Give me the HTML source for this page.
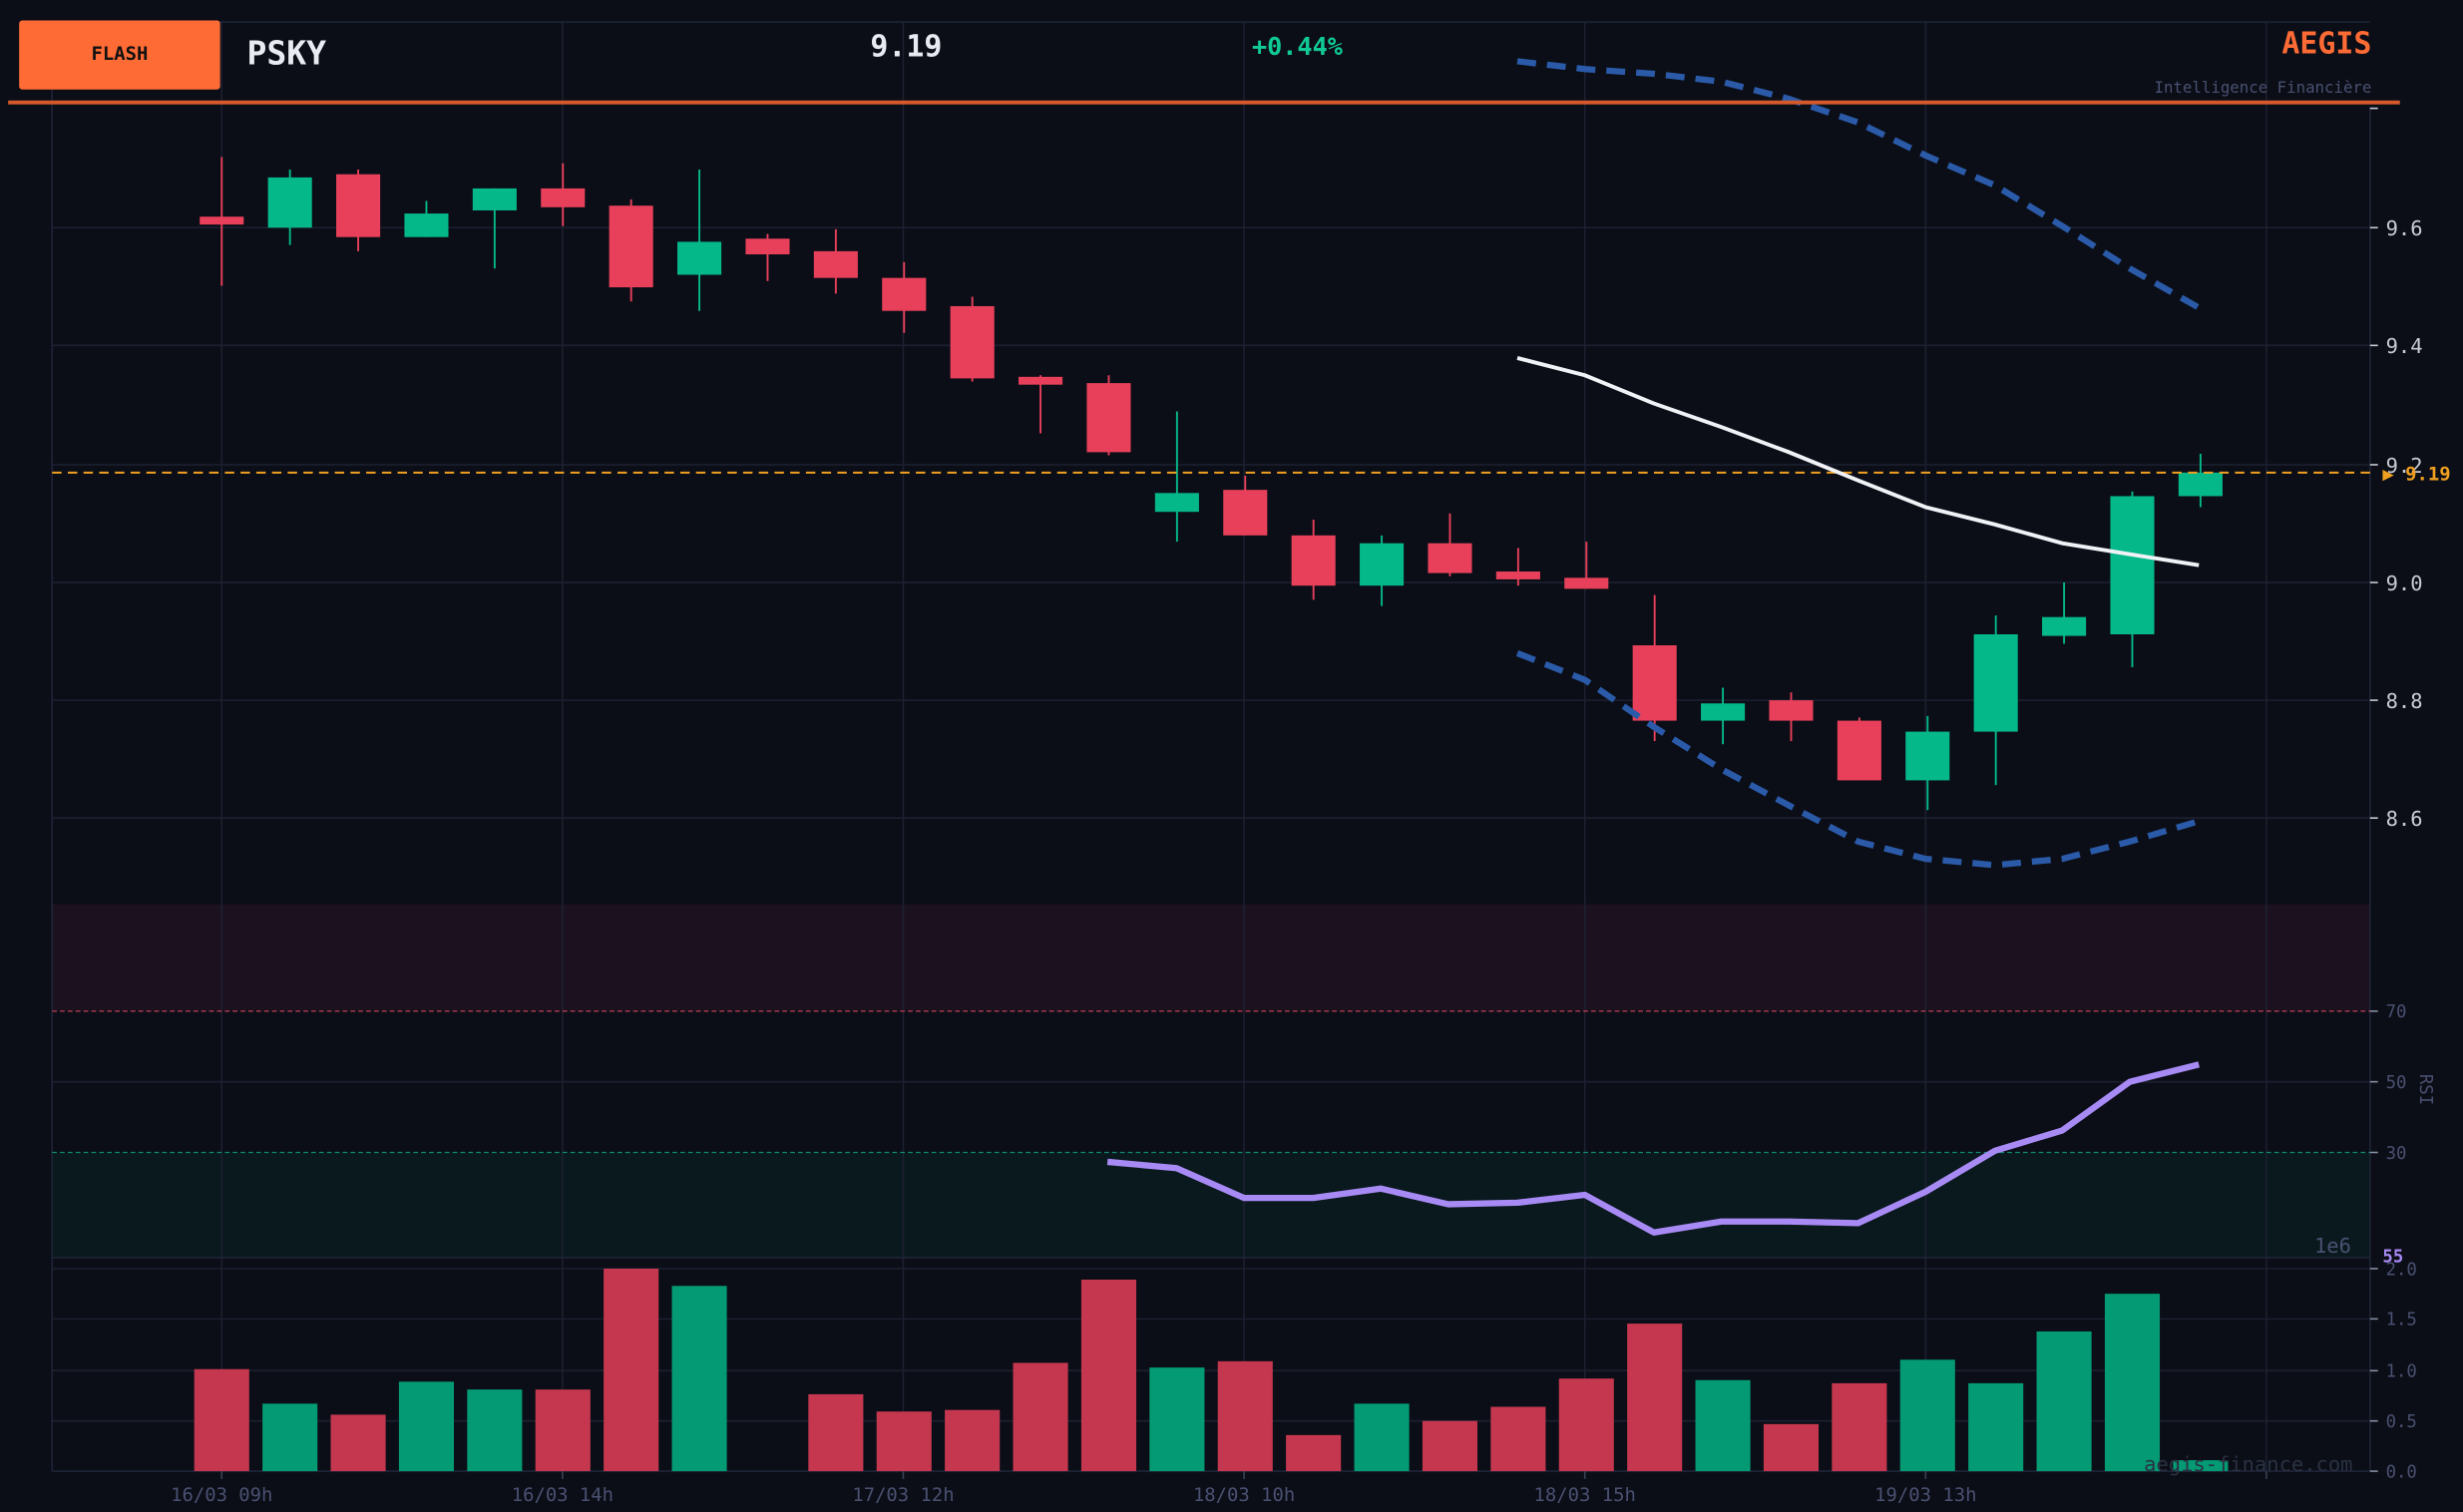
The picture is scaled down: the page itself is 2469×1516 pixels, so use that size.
<!DOCTYPE html>
<html><head><meta charset="utf-8"><style>
html,body{margin:0;padding:0;background:#0b0e17;}
svg{display:block;}
text{font-family:"DejaVu Sans Mono","Liberation Mono",monospace;}
</style></head><body>
<svg id="c" width="2469" height="1516" viewBox="0 0 1568 963" xmlns="http://www.w3.org/2000/svg">
<rect width="1568" height="963" fill="#0b0e17"/>
<rect x="33" y="576" width="1476" height="68" fill="#1c121f"/>
<rect x="33" y="734" width="1476" height="67" fill="#0a191e"/>
<g id="grid" stroke="#1c2030" stroke-width="1"></g>
<line x1="33" y1="14" x2="1509" y2="14" stroke="#1c2438"/>
<line x1="33" y1="14" x2="33" y2="937" stroke="#1f2538"/>
<line x1="1509" y1="68" x2="1509" y2="937" stroke="#1f2538"/>
<line x1="33" y1="801" x2="1509" y2="801" stroke="#1f2538"/>
<line x1="33" y1="644" x2="1509" y2="644" stroke="#b23a4f" stroke-dasharray="3,2" stroke-width="0.8"/>
<line x1="33" y1="734" x2="1509" y2="734" stroke="#0f8a72" stroke-dasharray="3,2" stroke-width="0.8"/>
<g id="vol"></g>
<g id="candles"></g>
<line x1="33" y1="301" x2="1509" y2="301" stroke="#f0a020" stroke-dasharray="6,4" stroke-width="1.3"/>
<g id="lines"></g>
<g id="labels" font-size="12" fill="#c8ccd4"></g>
<rect x="12" y="13" width="128" height="44" rx="2" fill="#ff6b35"/>
<text x="76" y="38" font-size="12" font-weight="bold" fill="#111" text-anchor="middle">FLASH</text>
<text x="157" y="41" font-size="21" font-weight="bold" fill="#e8ecf2">PSKY</text>
<text x="554" y="36" font-size="19" font-weight="bold" fill="#e8ecf2">9.19</text>
<text x="797" y="35" font-size="16" font-weight="bold" fill="#10c994">+0.44%</text>
<text x="1510" y="34" font-size="19" font-weight="bold" fill="#ff6b35" text-anchor="end">AEGIS</text>
<text x="1510" y="59" font-size="10" fill="#4a5070" text-anchor="end">Intelligence Financière</text>
<rect x="5" y="64" width="1523" height="2.5" fill="#d45a2c"/>
<text x="1517" y="306" font-size="12" font-weight="bold" fill="#f0a020">▶ 9.19</text>
<text x="1517" y="804" font-size="11" font-weight="bold" fill="#a88af5">55</text>
<text x="1497" y="798" font-size="13" fill="#4a5070" text-anchor="end">1e6</text>
<text x="1546" y="689" font-size="11" fill="#4a5070" text-anchor="middle" transform="rotate(90 1541 689)">RSI</text>
<text x="1498" y="937" font-size="13" fill="#2a3142" text-anchor="end">aegis-finance.com</text>
</svg>
<script>
const NS="http://www.w3.org/2000/svg";
function el(p,t,a){const e=document.createElementNS(NS,t);for(const k in a)e.setAttribute(k,a[k]);document.getElementById(p).appendChild(e);return e;}
const X=i=>141+43.45*i;
// grid
[145,220,296,371,446,521].forEach(y=>el('grid','line',{x1:33,x2:1509,y1:y,y2:y}));
[689].forEach(y=>el('grid','line',{x1:33,x2:1509,y1:y,y2:y}));
[808,840,873,905].forEach(y=>el('grid','line',{x1:33,x2:1509,y1:y,y2:y}));
el('grid','line',{x1:33,x2:1509,y1:937,y2:937,stroke:'#1f2538'});
[141,358,575,792,1009,1226,1443].forEach(x=>{el('grid','line',{x1:x,x2:x,y1:14,y2:937});el('grid','line',{x1:x,x2:x,y1:937,y2:942,stroke:'#3a4258'});});
// candles: color, bodyTop, bodyBot, wickTop, wickBot
const C=[['r',138,143,100,182],['g',113,145,108,156],['r',111,151,108,160],['g',136,151,128,151],['g',120,134,120,171],['r',120,132,104,144],['r',131,183,127,192],['g',154,175,108,198],['r',152,162,149,179],['r',160,177,146,187],['r',177,198,167,212],['r',195,241,189,243],['r',240,245,239,276],['r',244,288,239,290],['g',314,326,262,345],['r',312,341,303,341],['r',341,373,331,382],['g',346,373,341,386],['r',346,365,327,367],['r',364,369,349,373],['r',368,375,345,375],['r',411,459,379,472],['g',448,459,438,474],['r',446,459,441,472],['r',459,497,457,497],['g',466,497,456,516],['g',404,466,392,500],['g',393,405,371,410],['g',316,404,313,425],['g',301,316,289,323]];
C.forEach((c,i)=>{const x=X(i),col=c[0]=='r'?'#e8405a':'#05b88a';
el('candles','line',{x1:x,x2:x,y1:c[3],y2:c[4],stroke:col,'stroke-width':1.2});
el('candles','rect',{x:x-14,y:c[1],width:28,height:Math.max(2,c[2]-c[1]),fill:col});});
// volume
const V=[['r',872],['g',894],['r',901],['g',880],['g',885],['r',885],['r',808],['g',819],null,['r',888],['r',899],['r',898],['r',868],['r',815],['g',871],['r',867],['r',914],['g',894],['r',905],['r',896],['r',878],['r',843],['g',879],['r',907],['r',881],['g',866],['g',881],['g',848],['g',824],['g',930]];
V.forEach((v,i)=>{if(!v)return;el('vol','rect',{x:X(i)-17.5,y:v[1],width:35,height:937-v[1],fill:v[0]=='r'?'#c4374f':'#039a74'});});
// lines
const xs=[966,1009,1053,1096,1139,1183,1226,1270,1313,1356,1400];
const pts=ys=>xs.map((x,i)=>x+','+ys[i]).join(' ');
el('lines','polyline',{points:pts([39,44,47,52,63,78,99,118,144,171,196]),fill:'none',stroke:'#2a5aa8','stroke-width':4,'stroke-dasharray':'12,7'});
el('lines','polyline',{points:pts([416,433,463,490,513,536,547,551,547,536,523]),fill:'none',stroke:'#2a5aa8','stroke-width':4,'stroke-dasharray':'12,7'});
el('lines','polyline',{points:pts([228,239,257,272,288,306,323,334,346,353,360]),fill:'none',stroke:'#f0f2f6','stroke-width':2.5});
const R=[[705,740],[749,744],[792,763],[836,763],[879,757],[922,767],[966,766],[1009,761],[1053,785],[1096,778],[1139,778],[1183,779],[1226,759],[1270,733],[1313,720],[1356,689],[1400,678]];
el('lines','polyline',{points:R.map(p=>p.join(',')).join(' '),fill:'none',stroke:'#a88af5','stroke-width':4,'stroke-linejoin':'round'});
// labels
const L=(x,y,t,o)=>{const e=el('labels','text',Object.assign({x:x,y:y},o||{}));e.textContent=t;};
[[145,'9.6'],[220,'9.4'],[296,'9.2'],[371,'9.0'],[446,'8.8'],[521,'8.6']].forEach(a=>{el('labels','line',{x1:1509,x2:1514,y1:a[0],y2:a[0],stroke:'#c8ccd4'});L(1519,a[0]+5,a[1],{'font-size':13});});
el('labels','line',{x1:1509,x2:1514,y1:69,y2:69,stroke:'#c8ccd4'});
[[644,'70'],[689,'50'],[734,'30']].forEach(a=>{el('labels','line',{x1:1509,x2:1514,y1:a[0],y2:a[0],stroke:'#8890a8'});L(1519,a[0]+4,a[1],{'font-size':11,fill:'#4a5070'});});
[[808,'2.0'],[840,'1.5'],[873,'1.0'],[905,'0.5'],[937,'0.0']].forEach(a=>{el('labels','line',{x1:1509,x2:1514,y1:a[0],y2:a[0],stroke:'#8890a8'});L(1519,a[0]+4,a[1],{'font-size':11,fill:'#4a5070'});});
[[141,'16/03 09h'],[358,'16/03 14h'],[575,'17/03 12h'],[792,'18/03 10h'],[1009,'18/03 15h'],[1226,'19/03 13h']].forEach(a=>L(a[0],956,a[1],{'font-size':12,fill:'#4a5070','text-anchor':'middle'}));
</script>
</body></html>
